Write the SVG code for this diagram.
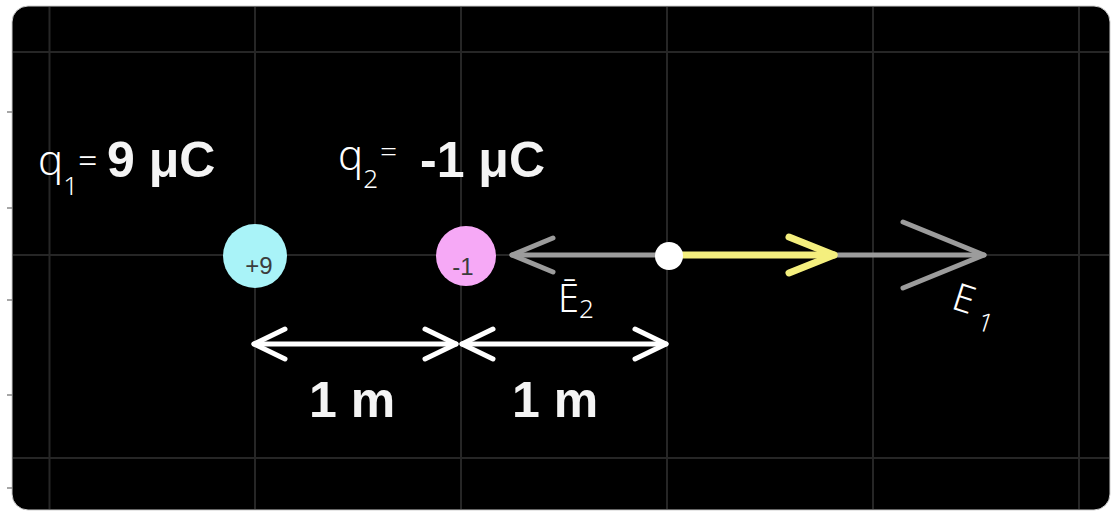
<svg xmlns="http://www.w3.org/2000/svg" width="1112" height="512" viewBox="0 0 1112 512">
  <style>
    .grid { stroke: #262626; stroke-width: 2; }
    .tick { stroke: #888; stroke-width: 1.5; }
    .val { font-family: "Liberation Sans", Arial, sans-serif; font-weight: bold; font-size: 50px; fill: #f4f4f4; }
    .hand { font-family: "Noto Sans", "DejaVu Sans", sans-serif; font-weight: 300; fill: #ffffff; }
    .chg { font-family: "Liberation Sans", Arial, sans-serif; font-size: 24px; fill: #3c3c3c; text-anchor: middle; }
    .dim { stroke: #ffffff; stroke-width: 5; fill: none; stroke-linecap: round; stroke-linejoin: round; }
    .field { stroke: #9c9c9c; stroke-width: 5; fill: none; stroke-linecap: round; stroke-linejoin: round; }
    .net { stroke: #f4ef7e; stroke-width: 7; fill: none; stroke-linecap: round; stroke-linejoin: round; }
  </style>
  <rect x="0" y="0" width="1112" height="512" fill="#ffffff"/>
  <g id="panel">
    <rect x="12" y="6" width="1098" height="504" rx="16" fill="#000000" stroke="#cfcfcf" stroke-width="1"/>
    <line class="tick" x1="7" y1="112" x2="12" y2="112"/>
    <line class="tick" x1="7" y1="208" x2="12" y2="208"/>
    <line class="tick" x1="7" y1="300" x2="12" y2="300"/>
    <line class="tick" x1="7" y1="395" x2="12" y2="395"/>
    <line class="tick" x1="7" y1="488" x2="12" y2="488"/>
  </g>
  <g id="grid">
    <line class="grid" x1="49.5" y1="7" x2="49.5" y2="509"/>
    <line class="grid" x1="255" y1="7" x2="255" y2="509"/>
    <line class="grid" x1="461" y1="7" x2="461" y2="509"/>
    <line class="grid" x1="667" y1="7" x2="667" y2="509"/>
    <line class="grid" x1="873" y1="7" x2="873" y2="509"/>
    <line class="grid" x1="1079" y1="7" x2="1079" y2="509"/>
    <line class="grid" x1="13" y1="52" x2="1109" y2="52"/>
    <line class="grid" x1="13" y1="255" x2="1109" y2="255"/>
    <line class="grid" x1="13" y1="458" x2="1109" y2="458"/>
  </g>
  <g id="connectors">
    <g id="dim1">
      <line class="dim" x1="254" y1="344" x2="456" y2="344"/>
      <polyline class="dim" points="285,329 254,344 285,359"/>
      <polyline class="dim" points="425,329 456,344 425,359"/>
    </g>
    <g id="dim2">
      <line class="dim" x1="462" y1="344" x2="666" y2="344"/>
      <polyline class="dim" points="493,329 462,344 493,359"/>
      <polyline class="dim" points="635,329 666,344 635,359"/>
    </g>
    <g id="E2-arrow">
      <line class="field" x1="512" y1="255" x2="669" y2="255"/>
      <polyline class="field" points="553,238 512,255 553,272"/>
    </g>
    <g id="E1-arrow">
      <line class="field" x1="669" y1="255" x2="984" y2="255"/>
      <polyline class="field" stroke-width="6" points="903,222 984,255 903,288"/>
    </g>
    <g id="Enet-arrow">
      <line class="net" x1="669" y1="255" x2="834" y2="255"/>
      <polyline class="net" stroke-width="9" points="789,237 834,255 789,273"/>
    </g>
  </g>
  <g id="q1">
    <circle cx="255" cy="256" r="32" fill="#a9f3f8"/>
    <text class="chg" x="259" y="274">+9</text>
  </g>
  <g id="q2">
    <circle cx="466" cy="256" r="30" fill="#f6a9f6"/>
    <text class="chg" x="463" y="275">-1</text>
  </g>
  <g id="point">
    <circle cx="669" cy="256" r="14" fill="#ffffff"/>
  </g>
  <g id="q1-label">
    <text class="hand" x="38" y="175" font-size="42">q<tspan font-size="26" dy="20">1</tspan><tspan font-size="34" dy="-22">=</tspan></text>
    <text class="val" x="107" y="177">9 μC</text>
  </g>
  <g id="q2-label">
    <text class="hand" x="338" y="170" font-size="42">q<tspan font-size="26" dy="18">2</tspan><tspan font-size="30" dx="2" dy="-26">=</tspan></text>
    <text class="val" x="420" y="177">-1 μC</text>
  </g>
  <g id="E2-label">
    <text class="hand" x="558" y="312" font-size="38">Ē<tspan font-size="26" dy="6">2</tspan></text>
  </g>
  <g id="E1-label">
    <text class="hand" font-size="38" transform="translate(950,308) rotate(18)">E<tspan font-size="26" dx="10" dy="12">1</tspan></text>
  </g>
  <g id="dim-labels">
    <text class="val" x="309" y="417">1 m</text>
    <text class="val" x="512" y="417">1 m</text>
  </g>
</svg>
